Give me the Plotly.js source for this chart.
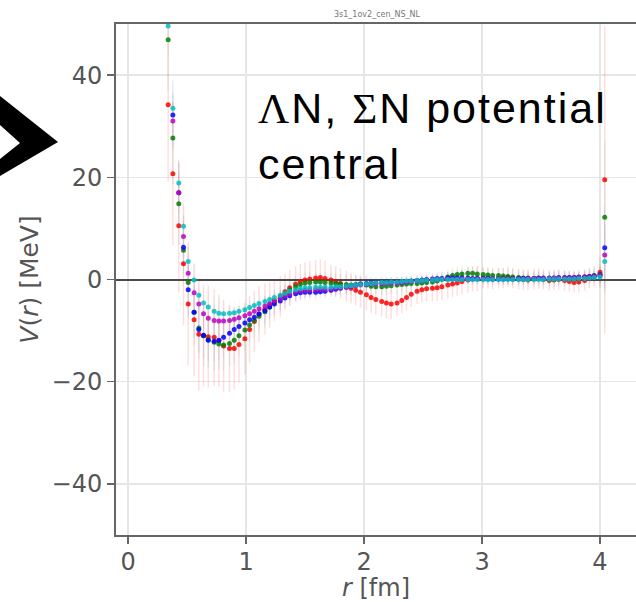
<!DOCTYPE html>
<html>
<head>
<meta charset="utf-8">
<script src="https://cdn.plot.ly/plotly-3.0.1.min.js"></script>
<style>html,body{margin:0;padding:0;background:#fff;}#chart{width:636px;height:602px;}</style>
</head>
<body>
<div id="chart"></div>
<script>
const chartTitle = "3s1_1ov2_cen_NS_NL";
const xLabel = "<i>r</i> [fm]";
const yLabel = "<i>V</i>(<i>r</i>) [MeV]";
const xTicks = [0, 1, 2, 3, 4];
const yTicks = [-40, -20, 0, 20, 40];

const r = [0.34,0.38,0.43,0.47,0.51,0.56,0.60,0.64,0.68,0.73,
 0.77,0.81,0.86,0.90,0.94,0.99,1.03,1.07,1.11,1.16,
 1.20,1.24,1.29,1.33,1.37,1.42,1.46,1.50,1.54,1.59,
 1.63,1.67,1.72,1.76,1.80,1.85,1.89,1.93,1.97,2.02,
 2.06,2.10,2.15,2.19,2.23,2.28,2.32,2.36,2.40,2.45,
 2.49,2.53,2.58,2.62,2.66,2.71,2.75,2.79,2.83,2.88,
 2.92,2.96,3.01,3.05,3.09,3.14,3.18,3.22,3.26,3.31,
 3.35,3.39,3.44,3.48,3.52,3.57,3.61,3.65,3.70,3.74,
 3.78,3.82,3.87,3.91,3.95,4.00,4.04];

const vRed = [34.2,20.7,10.5,3.1,-4.8,-7.9,-10.7,-11.0,-11.2,-11.3,
 -12.0,-13.0,-13.5,-13.5,-12.7,-11.6,-9.8,-8.2,-6.8,-5.8,
 -5.0,-4.1,-3.3,-2.4,-1.6,-0.9,-0.4,-0.1,0.1,0.3,
 0.4,0.2,-0.1,-0.4,-0.8,-1.3,-1.7,-2.1,-2.5,-3.0,
 -3.5,-3.9,-4.3,-4.6,-4.8,-4.6,-4.1,-3.5,-2.9,-2.3,
 -2.0,-1.8,-1.7,-1.6,-1.4,-1.1,-0.9,-0.7,-0.4,-0.1,
 0.1,0.2,0.3,0.2,0.1,0.2,0.3,0.5,0.3,0.1,
 0.0,-0.1,0.1,0.2,0.0,-0.2,-0.1,0.0,-0.2,-0.4,
 -0.6,-0.5,-0.2,0.3,0.6,1.4,19.5];
const vGreen = [46.9,27.7,14.8,5.7,-0.6,-6.4,-9.5,-11.0,-11.8,-12.3,
 -12.6,-12.8,-12.5,-11.9,-11.0,-9.9,-8.9,-8.0,-7.2,-6.3,
 -5.4,-4.5,-3.7,-2.8,-2.0,-1.4,-1.0,-0.7,-0.6,-0.5,
 -0.5,-0.6,-0.7,-0.8,-0.9,-1.0,-1.1,-1.0,-0.9,-1.1,
 -1.3,-1.4,-1.4,-1.3,-1.2,-1.1,-1.0,-0.9,-0.8,-0.8,
 -0.7,-0.6,-0.5,-0.3,0.1,0.5,0.8,1.0,1.1,1.2,
 1.2,1.1,1.0,0.9,0.8,0.8,0.7,0.6,0.5,0.4,
 0.3,0.3,0.2,0.2,0.1,0.1,0.1,0.2,0.2,0.3,
 0.3,0.4,0.5,0.6,0.8,1.0,12.2];
const vBlue = [58.0,32.2,17.0,6.3,-2.0,-6.4,-9.8,-10.9,-11.9,-12.1,
 -11.9,-11.3,-10.5,-9.8,-9.2,-8.5,-7.9,-7.4,-6.7,-6.1,
 -5.4,-4.8,-4.2,-3.6,-3.2,-2.8,-2.6,-2.5,-2.5,-2.5,
 -2.4,-2.3,-2.1,-1.9,-1.7,-1.5,-1.3,-1.1,-0.9,-0.8,
 -0.7,-0.7,-0.7,-0.6,-0.6,-0.5,-0.5,-0.4,-0.3,-0.2,
 -0.1,0.0,0.1,0.2,0.2,0.3,0.3,0.3,0.3,0.3,
 0.2,0.2,0.2,0.2,0.1,0.1,0.1,0.1,0.1,0.2,
 0.2,0.2,0.2,0.3,0.3,0.3,0.3,0.4,0.4,0.4,
 0.4,0.5,0.5,0.6,0.7,0.9,6.2];
const vMagenta = [56.0,31.0,17.0,8.4,1.2,-2.6,-4.8,-6.7,-7.6,-8.0,
 -8.1,-8.1,-8.0,-7.8,-7.5,-7.1,-6.7,-6.2,-5.7,-5.2,
 -4.7,-4.2,-3.7,-3.2,-2.8,-2.4,-2.2,-2.1,-2.0,-2.0,
 -1.9,-1.9,-1.8,-1.7,-1.6,-1.5,-1.3,-1.2,-1.1,-1.0,
 -0.9,-0.9,-0.8,-0.8,-0.7,-0.7,-0.6,-0.5,-0.4,-0.3,
 -0.2,-0.1,0.0,0.0,0.1,0.1,0.1,0.1,0.1,0.1,
 0.1,0.1,0.1,0.1,0.1,0.1,0.1,0.1,0.1,0.1,
 0.1,0.2,0.2,0.2,0.2,0.2,0.3,0.3,0.3,0.3,
 0.4,0.4,0.5,0.5,0.6,0.8,4.8];
const vCyan = [49.6,33.5,18.9,10.4,3.5,-0.1,-3.1,-4.6,-5.4,-6.2,
 -6.6,-6.7,-6.6,-6.5,-6.2,-5.9,-5.5,-5.1,-4.7,-4.3,
 -3.9,-3.5,-3.1,-2.7,-2.3,-2.0,-1.8,-1.6,-1.6,-1.5,
 -1.5,-1.5,-1.5,-1.4,-1.4,-1.3,-1.2,-1.1,-1.0,-0.9,
 -0.8,-0.7,-0.6,-0.6,-0.5,-0.5,-0.4,-0.3,-0.3,-0.2,
 -0.2,-0.1,-0.1,0.0,0.0,0.0,0.0,0.0,0.0,0.0,
 0.0,0.0,0.0,0.0,0.0,0.0,0.0,0.0,0.0,0.0,
 0.0,0.0,0.0,0.0,0.0,0.1,0.1,0.1,0.1,0.1,
 0.1,0.2,0.2,0.3,0.4,0.5,3.5];

const eRed = [15,14,13,12,12,11,11,10,10,9.5,
 9,9,8.5,8,7.5,7,6.5,6,5.5,5,
 4.5,4,4,3.5,3.5,3.5,3.5,3.5,3.5,3.5,
 3.5,3.5,3,3,3,3,3,3,3,3,
 3,3,3,3,3,2.5,2.5,2.5,2.5,2.5,
 2.5,2.5,2.5,2.5,2.5,2.5,2.5,2.5,2.5,2.5,
 2.5,2.5,2,2,2,2,2,2,2,2,
 2,2,2,2,2,2,2,2,2,2,
 2,2,2,2,2,3,30];
const eGreen = [10,9,8,7,7,6.5,6,6,5.5,5.5,
 5,5,4.5,4.5,4,4,3.5,3.5,3,3,
 2.5,2.5,2.5,2,2,2,2,2,2,2,
 2,2,2,2,2,2,2,2,2,2,
 1.5,1.5,1.5,1.5,1.5,1.5,1.5,1.5,1.5,1.5,
 1.5,1.5,1.5,1.5,1.5,1.5,1.5,1.5,1.5,1.5,
 1.5,1.5,1.5,1.5,1.5,1.5,1.5,1.5,1.5,1.5,
 1.5,1.5,1.5,1.5,1.5,1.5,1.5,1.5,1.5,1.5,
 1.5,1.5,1.5,1.5,1.5,2,15];
const eBlue = [8,7,6,5,5,5,4.5,4.5,4,4,
 4,4,3.5,3.5,3,3,3,2.5,2.5,2.5,
 2,2,2,2,2,1.5,1.5,1.5,1.5,1.5,
 1.5,1.5,1.5,1.5,1.5,1.5,1.5,1.5,1.5,1.5,
 1.2,1.2,1.2,1.2,1.2,1.2,1.2,1.2,1.2,1.2,
 1.2,1.2,1.2,1.2,1.2,1.2,1.2,1.2,1.2,1.2,
 1.2,1.2,1.2,1.2,1.2,1.2,1.2,1.2,1.2,1.2,
 1.2,1.2,1.2,1.2,1.2,1.2,1.2,1.2,1.2,1.2,
 1.2,1.2,1.2,1.2,1.2,1.5,8];
const eMagenta = [6,5,4,4,3.5,3.5,3,3,3,3,
 3,2.5,2.5,2.5,2.5,2,2,2,2,2,
 1.5,1.5,1.5,1.5,1.5,1.5,1.5,1.5,1.5,1.5,
 1,1,1,1,1,1,1,1,1,1,
 1,1,1,1,1,1,1,1,1,1,
 1,1,1,1,1,1,1,1,1,1,
 1,1,1,1,1,1,1,1,1,1,
 1,1,1,1,1,1,1,1,1,1,
 1,1,1,1,1,1.5,6];
const eCyan = [6,5,4,4,3.5,3.5,3,3,3,3,
 3,2.5,2.5,2.5,2.5,2,2,2,2,2,
 1.5,1.5,1.5,1.5,1.5,1.5,1.5,1.5,1.5,1.5,
 1,1,1,1,1,1,1,1,1,1,
 1,1,1,1,1,1,1,1,1,1,
 1,1,1,1,1,1,1,1,1,1,
 1,1,1,1,1,1,1,1,1,1,
 1,1,1,1,1,1,1,1,1,1,
 1,1,1,1,1,1.5,6];

const seriesNames = ["red", "green", "blue", "magenta", "cyan"];
const seriesValues = [vRed, vGreen, vBlue, vMagenta, vCyan];
const seriesErrors = [eRed, eGreen, eBlue, eMagenta, eCyan];
const markerColors = ["#ff0000", "#008000", "#0000ff", "#bf00bf", "#00bfbf"];
const errColors = ["rgba(255,0,0,0.13)", "rgba(0,128,0,0.08)", "rgba(0,0,255,0.06)", "rgba(191,0,191,0.05)", "rgba(0,191,191,0.05)"];

const W = 636, H = 602, ML = 116, MR = 0, MT = 24, MB = 67;
const PW = W - ML - MR, PH = H - MT - MB;
function px(x) { return (x - ML) / PW; }
function py(y) { return (H - MB - y) / PH; }

const traces = seriesNames.map((n, i) => ({
  type: "scatter", mode: "markers", name: n,
  x: r, y: seriesValues[i],
  error_y: { type: "data", array: seriesErrors[i], visible: true, color: errColors[i], thickness: 1.5, width: 0 },
  marker: { size: 5, color: markerColors[i], opacity: 0.85, line: { width: 0 } },
  showlegend: false, hoverinfo: "skip"
}));

const tickFont = { family: "DejaVu Sans", size: 24, color: "#555" };

// chevron arrow at the left edge
const chevron = [[0,96],[58,142],[0,176],[0,159],[20,143],[0,125]];
const chevronPath = "M " + chevron.map(p => px(p[0]) + "," + py(p[1])).join(" L ") + " Z";

const layout = {
  width: W, height: H,
  margin: { l: ML, r: MR, t: MT, b: MB, pad: 0 },
  paper_bgcolor: "#fff", plot_bgcolor: "#fff",
  title: { text: chartTitle, font: { family: "DejaVu Sans", size: 8, color: "#777" },
           x: px(377), xanchor: "center", y: 1 - 14 / H, yanchor: "middle", xref: "paper", yref: "container" },
  xaxis: {
    range: [-0.102, 4.305], tickvals: xTicks, ticktext: xTicks.map(String),
    showgrid: true, gridcolor: "#e6e6e6", gridwidth: 1.5, zeroline: false,
    showline: true, linecolor: "#666", linewidth: 2, mirror: true,
    ticks: "outside", ticklen: 7, tickwidth: 1.5, tickcolor: "#666",
    tickfont: tickFont, ticklabelstandoff: -3,
    title: { text: xLabel, font: { family: "DejaVu Sans", size: 24, color: "#555" }, standoff: 4 }
  },
  yaxis: {
    range: [-50, 50], tickvals: yTicks, ticktext: yTicks.map(v => v < 0 ? "\u2212" + Math.abs(v) : String(v)),
    showgrid: true, gridcolor: "#e6e6e6", gridwidth: 1.5,
    zeroline: true, zerolinecolor: "#4a4a4a", zerolinewidth: 2,
    showline: true, linecolor: "#666", linewidth: 2, mirror: false,
    ticks: "outside", ticklen: 7, tickwidth: 1.5, tickcolor: "#666",
    tickfont: tickFont,
    title: { text: yLabel, font: { family: "DejaVu Sans", size: 25, color: "#555" }, standoff: 6 }
  },
  shapes: [
    { type: "path", xref: "paper", yref: "paper", path: chevronPath, fillcolor: "#000", line: { width: 0 }, layer: "above" }
  ],
  annotations: [
    { xref: "paper", yref: "paper", x: px(256), y: py(108), xanchor: "left", yanchor: "middle", showarrow: false,
      text: '<span style="letter-spacing:2px"><span style="font-family:Liberation Serif">\u039b</span>N, <span style="font-family:Liberation Serif">\u03a3</span>N potential</span>',
      font: { family: "Liberation Sans", size: 43, color: "#000" } },
    { xref: "paper", yref: "paper", x: px(256), y: py(164), xanchor: "left", yanchor: "middle", showarrow: false,
      text: '<span style="letter-spacing:2px">central</span>',
      font: { family: "Liberation Sans", size: 43, color: "#000" } }
  ]
};

Plotly.newPlot("chart", traces, layout, { displayModeBar: false, staticPlot: true });
</script>
</body>
</html>
